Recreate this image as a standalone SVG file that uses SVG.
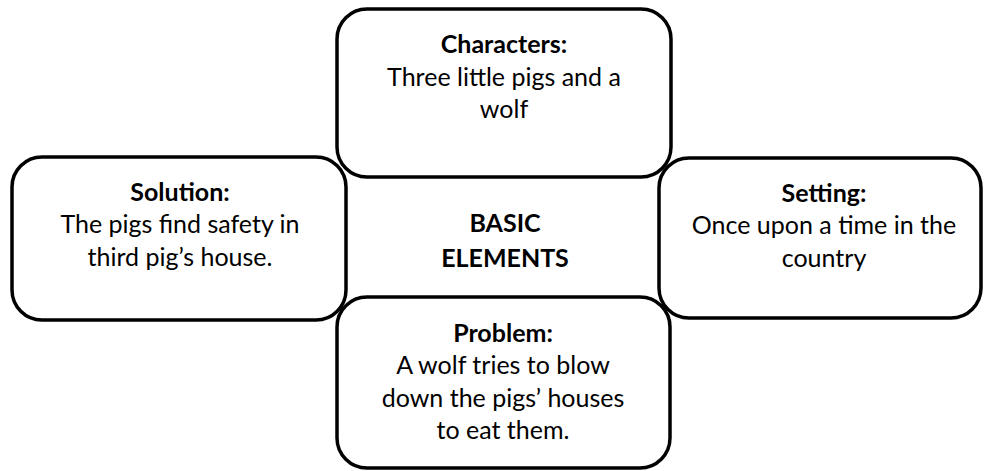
<svg xmlns="http://www.w3.org/2000/svg" width="984" height="471" viewBox="0 0 984 471">
<style>
.box{fill:none;stroke:#000;stroke-width:3.5}
text{font-family:Lato,"Open Sans","Liberation Sans",sans-serif;font-size:25px;fill:#000;text-anchor:middle}
.b{font-weight:bold}
</style>
<rect width="984" height="471" fill="#fff"/>
<g id="characters">
<rect class="box" x="337" y="9" width="334" height="168" rx="30"/>
<text x="504" y="53" class="b">Characters:</text>
<text x="504" y="86">Three little pigs and a</text>
<text x="504" y="118">wolf</text>
</g>
<g id="solution">
<rect class="box" x="12" y="157" width="334" height="163" rx="30"/>
<text x="180" y="201" class="b">Solution:</text>
<text x="180" y="233">The pigs find safety in</text>
<text x="180" y="266">third pig’s house.</text>
</g>
<g id="setting">
<rect class="box" x="659" y="158" width="322" height="160" rx="30"/>
<text x="824" y="202" class="b">Setting:</text>
<text x="824" y="234">Once upon a time in the</text>
<text x="824" y="267">country</text>
</g>
<g id="problem">
<rect class="box" x="337" y="297" width="333" height="171" rx="30"/>
<text x="503" y="342" class="b">Problem:</text>
<text x="503" y="374">A wolf tries to blow</text>
<text x="503" y="407">down the pigs’ houses</text>
<text x="503" y="439">to eat them.</text>
</g>
<g id="center">
<text x="505" y="232" class="b">BASIC</text>
<text x="505" y="267" class="b">ELEMENTS</text>
</g>
<g id="connectors"/>
</svg>
